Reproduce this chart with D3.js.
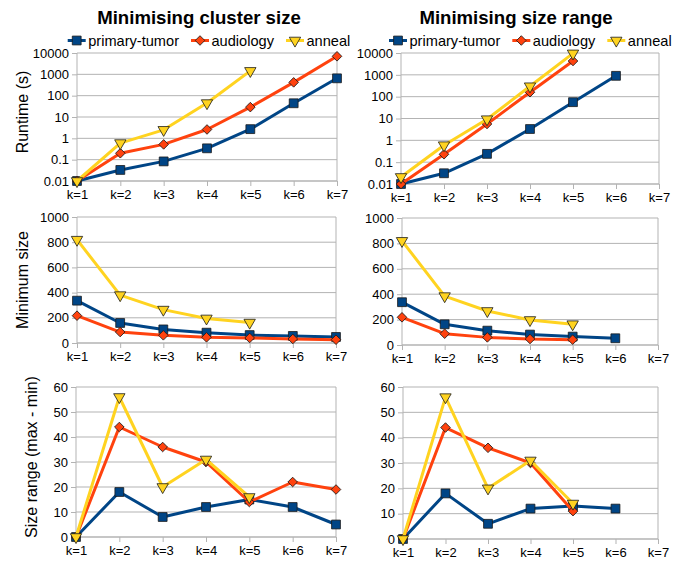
<!DOCTYPE html>
<html>
<head>
<meta charset="utf-8">
<script src="https://cdn.jsdelivr.net/npm/d3@7"></script>
<style>
  body { margin: 0; background: #fff; }
  svg { font-family: "Liberation Sans", Arial, sans-serif; }
  .tick text { font-size: 13px; fill: #000; }
  .domain, .tick line { stroke: #b3b3b3; }
</style>
</head>
<body>
<script>
// categories and series
var kLabels = ["k=1", "k=2", "k=3", "k=4", "k=5", "k=6", "k=7"];
var seriesNames = ["primary-tumor", "audiology", "anneal"];

// Minimising cluster size
var clusterRuntimeTumor     = [0.01, 0.033, 0.083, 0.34, 2.7, 44, 650];
var clusterRuntimeAudiology = [0.01, 0.2, 0.52, 2.6, 29, 420, 7000];
var clusterRuntimeAnneal    = [0.01, 0.6, 2.5, 45, 1450];
var clusterMinTumor         = [336, 159, 108, 82, 63, 56, 48];
var clusterMinAudiology     = [217, 87, 61, 45, 40, 32, 26];
var clusterMinAnneal        = [820, 380, 265, 195, 162];
var clusterRangeTumor       = [0, 18, 8, 12, 15, 12, 5];
var clusterRangeAudiology   = [0, 44, 36, 30, 14, 22, 19];
var clusterRangeAnneal      = [0, 56, 20, 31, 16];

// Minimising size range
var rangeRuntimeTumor       = [0.01, 0.031, 0.24, 3.3, 56, 900];
var rangeRuntimeAudiology   = [0.01, 0.23, 5.6, 160, 4300];
var rangeRuntimeAnneal      = [0.021, 0.6, 9.3, 300, 9600];
var rangeMinTumor           = [337, 163, 113, 82, 66, 53];
var rangeMinAudiology       = [218, 89, 60, 47, 42];
var rangeMinAnneal          = [820, 385, 268, 197, 164];
var rangeRangeTumor         = [0, 18, 6, 12, 13, 12];
var rangeRangeAudiology     = [0, 44, 36, 30, 11];
var rangeRangeAnneal        = [0, 56, 20, 31, 14];

// tick values
var runtimeTicks = [0.01, 0.1, 1, 10, 100, 1000, 10000];
var minSizeTicks = [0, 200, 400, 600, 800, 1000];
var rangeTicks   = [0, 10, 20, 30, 40, 50, 60];

var col = ["#004586", "#ff420e", "#ffd320"];
// square, diamond (square turned 45 deg), downward triangle
var markerSymbol = [d3.symbolSquare, d3.symbolSquare, d3.symbolTriangle];
var markerSize = [78, 46, 56];
var markerTurn = [0, 45, 180];

var svg = d3.select("body").append("svg")
    .attr("width", 686)
    .attr("height", 561);

function marker(sel, s) {
    sel.attr("d", d3.symbol().type(markerSymbol[s]).size(markerSize[s])())
        .attr("fill", col[s])
        .attr("stroke", "#1a1a1a")
        .attr("stroke-width", 0.8);
}

function drawPanel(p) {
    var x = d3.scalePoint().domain(kLabels).range([p.x0, p.x1]);
    var y = (p.log ? d3.scaleLog() : d3.scaleLinear())
        .domain([p.ticks[0], p.ticks[p.ticks.length - 1]])
        .range([p.y1, p.y0]);
    var g = svg.append("g");

    // horizontal grid
    g.append("g").selectAll("line")
        .data(p.ticks)
        .enter().append("line")
            .attr("x1", p.x0).attr("x2", p.x1)
            .attr("y1", function(d) { return y(d); })
            .attr("y2", function(d) { return y(d); })
            .attr("stroke", "#b3b3b3");
    g.append("line")
        .attr("x1", p.x1).attr("x2", p.x1)
        .attr("y1", p.y0).attr("y2", p.y1)
        .attr("stroke", "#b3b3b3");

    g.append("g")
        .attr("transform", "translate(" + p.x0 + ",0)")
        .call(d3.axisLeft(y).tickValues(p.ticks).tickSize(5).tickPadding(3)
            .tickFormat(function(d) { return String(+d.toPrecision(6)); }))
        .call(function(a) { a.select(".domain").attr("d", "M0," + p.y0 + "V" + p.y1); });

    g.append("g")
        .attr("transform", "translate(0," + p.y1 + ")")
        .call(d3.axisBottom(x).tickSize(5).tickPadding(4))
        .call(function(a) { a.select(".domain").attr("d", "M" + p.x0 + ",0H" + p.x1); });

    var line = d3.line()
        .x(function(d, i) { return x(kLabels[i]); })
        .y(function(d) { return y(d); });

    p.series.forEach(function(vals, s) {
        g.append("path")
            .datum(vals)
            .attr("d", line)
            .attr("fill", "none")
            .attr("stroke", col[s])
            .attr("stroke-width", 3)
            .attr("stroke-linejoin", "round");
        g.selectAll(null)
            .data(vals)
            .enter().append("path")
                .call(marker, s)
                .attr("transform", function(d, i) {
                    return "translate(" + x(kLabels[i]) + "," + y(d) + ") rotate(" + markerTurn[s] + ")";
                });
    });

    if (p.label) {
        svg.append("text")
            .attr("transform", "translate(" + p.labelX + "," + ((p.y0 + p.y1) / 2 + (p.labelDy || 0)) + ") rotate(-90)")
            .attr("text-anchor", "middle")
            .style("font-size", "16px")
            .text(p.label);
    }
}

function drawLegend(startX, yc) {
    var mx = startX;
    seriesNames.forEach(function(name, s) {
        svg.append("line")
            .attr("x1", mx - 9).attr("x2", mx + 9)
            .attr("y1", yc).attr("y2", yc)
            .attr("stroke", col[s])
            .attr("stroke-width", 3);
        svg.append("path")
            .call(marker, s)
            .attr("transform", "translate(" + mx + "," + yc + ") rotate(" + markerTurn[s] + ")");
        var t = svg.append("text")
            .attr("x", mx + 11.5)
            .attr("y", yc + 5)
            .style("font-size", "14.6px")
            .text(name);
        mx = mx + 11.5 + t.node().getComputedTextLength() + 21;
    });
}

// titles
svg.append("text")
    .attr("x", 199).attr("y", 23.5)
    .attr("text-anchor", "middle")
    .style("font-size", "18.6px").style("font-weight", "bold")
    .text("Minimising cluster size");
svg.append("text")
    .attr("x", 516).attr("y", 23.5)
    .attr("text-anchor", "middle")
    .style("font-size", "18.6px").style("font-weight", "bold")
    .text("Minimising size range");

drawLegend(76.7, 40.5);
drawLegend(398, 40.5);

// left column
drawPanel({x0: 77, x1: 337, y0: 53, y1: 181, log: true, ticks: runtimeTicks,
    series: [clusterRuntimeTumor, clusterRuntimeAudiology, clusterRuntimeAnneal],
    label: "Runtime (s)", labelX: 28, labelDy: -5});
drawPanel({x0: 77, x1: 336, y0: 217, y1: 343, ticks: minSizeTicks,
    series: [clusterMinTumor, clusterMinAudiology, clusterMinAnneal],
    label: "Minimum size", labelX: 28});
drawPanel({x0: 76, x1: 336, y0: 387, y1: 537, ticks: rangeTicks,
    series: [clusterRangeTumor, clusterRangeAudiology, clusterRangeAnneal],
    label: "Size range (max - min)", labelX: 37, labelDy: -5});

// right column
drawPanel({x0: 401, x1: 659, y0: 53, y1: 184, log: true, ticks: runtimeTicks,
    series: [rangeRuntimeTumor, rangeRuntimeAudiology, rangeRuntimeAnneal]});
drawPanel({x0: 402, x1: 658, y0: 218, y1: 345, ticks: minSizeTicks,
    series: [rangeMinTumor, rangeMinAudiology, rangeMinAnneal]});
drawPanel({x0: 403, x1: 658, y0: 387, y1: 539, ticks: rangeTicks,
    series: [rangeRangeTumor, rangeRangeAudiology, rangeRangeAnneal]});
</script>
</body>
</html>
